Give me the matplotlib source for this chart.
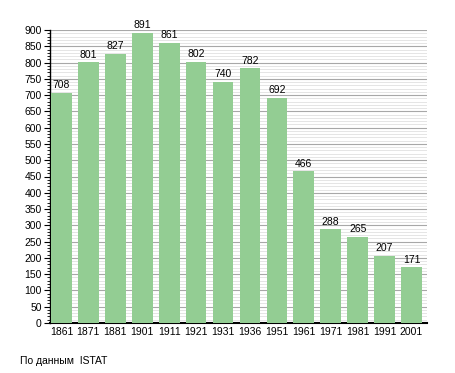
import matplotlib
matplotlib.use("Agg")
import matplotlib.pyplot as plt
from matplotlib.ticker import MultipleLocator

plt.rcParams['font.family'] = ['Liberation Sans', 'DejaVu Sans']

years = ['1861', '1871', '1881', '1901', '1911', '1921', '1931',
         '1936', '1951', '1961', '1971', '1981', '1991', '2001']
population = [708, 801, 827, 891, 861, 802, 740, 782, 692, 466, 288, 265, 207, 171]

fig = plt.figure(figsize=(4.55, 3.73), dpi=100)
ax = fig.add_axes([50 / 455, 50 / 373, 377 / 455, 293 / 373])

pos = [i + 0.04 for i in range(len(years))]
ax.bar(pos, population, width=0.77, align='edge', color='#93cd93', zorder=3)

for x, v in zip(pos, population):
    ax.text(x + 0.385, v + 8, str(v), ha='center', va='bottom', fontsize=7.5)

ax.set_xlim(0, len(years))
ax.set_ylim(0, 900)
ax.set_xticks([p + 0.385 for p in pos])
ax.set_xticklabels(years, fontsize=7.5)
ax.tick_params(axis='x', length=0, pad=3)

ax.yaxis.set_major_locator(MultipleLocator(50))
ax.yaxis.set_minor_locator(MultipleLocator(10))
ax.tick_params(axis='y', which='major', length=4, width=0.8, labelsize=7.5, pad=2)
ax.tick_params(axis='y', which='minor', length=2, width=0.6)

ax.grid(axis='y', which='major', color='#a8a8a8', linewidth=0.8, zorder=0)
ax.grid(axis='y', which='minor', color='#e0e0e0', linewidth=0.6, zorder=0)
ax.set_axisbelow(True)

for s in ['top', 'right']:
    ax.spines[s].set_visible(False)
ax.spines['left'].set_linewidth(1.0)
ax.spines['bottom'].set_linewidth(1.5)

fig.text(20 / 455, 1 - 361 / 373, 'По данным  ISTAT', fontsize=7.5, va='center')

fig.savefig('out.png', dpi=100)
